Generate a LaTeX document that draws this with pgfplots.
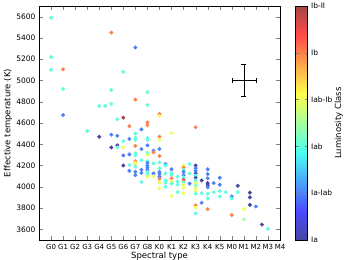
\documentclass[border=0pt]{standalone}
\usepackage{fontspec}
\setmainfont{DejaVu Sans}
\usepackage{pgfplots}
\pgfplotsset{compat=1.18}
\pgfplotsset{colormap={ljet}{rgb255(0cm)=(70,70,165) rgb255(1cm)=(75,75,255) rgb255(3cm)=(75,255,240) rgb255(5cm)=(255,255,75) rgb255(7cm)=(255,75,75) rgb255(8cm)=(165,70,70)}}
\begin{document}
\begin{tikzpicture}
\begin{axis}[
  at={(0pt,0pt)}, anchor=south west,
  scale only axis, width=241pt, height=234pt,
  xmin=-1, xmax=19, ymin=3500, ymax=5700,
  xtick={0,...,19},
  xticklabels={G0,G1,G2,G3,G4,G5,G6,G7,G8,K0,K1,K2,K3,K4,K5,M0,M1,M2,M3,M4},
  ytick={3600,3800,4000,4200,4400,4600,4800,5000,5200,5400,5600},
  yticklabels={3600,3800,4000,4200,4400,4600,4800,5000,5200,5400,5600},
  x tick label style={font=\fontsize{7}{8}\selectfont, yshift=-1pt},
  y tick label style={font=\fontsize{7.5}{8}\selectfont},
  major tick length=4pt,
  xlabel={Spectral type}, ylabel={Effective temperature (K)},
  label style={font=\fontsize{8.5}{10}\selectfont},
  xlabel style={at={(axis description cs:0.5,-0.068)}, anchor=center},
  ylabel style={at={(axis description cs:-0.129,0.5)}, anchor=center},
  colormap name=ljet,
  point meta min=0, point meta max=5,
  colorbar,
  colorbar style={
    at={(parent axis.north east)}, anchor=north west, xshift=7pt,
    scale only axis, width=12pt, height=234pt,
    ytick={0,1,2,3,4,5},
    yticklabels={Ia,Ia-Iab,Iab,Iab-Ib,Ib,Ib-II},
    yticklabel style={font=\fontsize{7.5}{8}\selectfont},
    major tick length=3pt,
    ylabel={Luminosity Class},
    ylabel style={font=\fontsize{8.5}{10}\selectfont, at={(axis description cs:3.6,0.5)}, anchor=center, rotate=0},
  },
]
\addplot[scatter, only marks, mark=*, mark size=1.8pt, point meta=explicit,
  scatter/use mapped color={draw=mapped color, fill=mapped color}]
  table[meta=c] {
x y c
0 5590 2
0 5220 2
0 5100 2
1 5105 4
1 4920 2
1 4675 1
3 4525 2
4 4760 2
4.5 4760 2
5 4780 2
5 4910 2
5 5450 4
6 5080 2
7 5310 1
7 4820 4
8 4890 2
8 4770 2
6 4650 5
5.5 4635 2
6.5 4570 4
8 4605 4
8 4580 4
9 4685 4
9 4665 3
7.5 4540 1
12 4560 4
10 4505 3
4 4470 0
5 4490 1
5.5 4480 1
6 4430 2
6.5 4450 1
7 4500 2
7 4460 2
7 4440 2
8 4460 2
8 4440 2
8 4390 1
9 4470 4
9 4440 3
5 4370 0
5.5 4390 0
5.5 4370 2
6 4370 3
7 4385 4
7.5 4355 1
8.5 4340 1
8.5 4325 4
9 4355 1
9 4290 4
6 4295 1
6.5 4305 1
7 4315 2
7 4295 2
8 4320 2
8 4300 3
7.5 4250 2
7 4240 4
7 4225 3
7 4210 3
7 4190 2
6 4200 0
6.5 4205 2
8 4240 2
8 4225 1
8 4200 1
8 4180 1
8 4160 1
8 4140 2
8 4120 2
8 4095 3
8.5 4220 2
8.5 4125 1
8.5 4100 3
9 4230 2
9 4175 2
9 4140 1
9 4120 1
9 4095 1
9 4075 4
9 4040 3
9 3985 3
9.5 4215 1
9.5 4200 2
9.5 4125 2
9.5 4060 2
9.5 4040 2
9.5 4000 2
7 4140 1
7 4110 1
6.5 4150 1
7.5 4160 1
7.5 4130 1
7.5 4045 2
10 4165 1
10 4130 2
10 4110 2
10 4080 4
10 4050 3
10 4030 2
10 3915 3
10.5 4095 2
10.5 4050 2
10.5 4020 2
10.5 3950 2
11 4200 3
11 4180 4
11 4160 2
11 4140 1
11 4110 1
11 4090 2
11 4065 4.6
11 4045 2
11 4020 3
11 3990 3
11 3940 3
11.5 4215 2
11.5 4125 2
11.5 4030 1
12 4200 0
12 4175 1
12 4150 1
12 4125 0
12 4105 2
12 4085 0
12 4060 2
12 4035 3
12 4010 2
12 3990 3
12 3960 3
12 3935 2
12 3825 4
12 3805 3
12 3750 2
12.5 4060 0
12.5 3940 2
12.5 3850 1
13 4165 1
13 4120 1
13 4080 1
13 4035 0
13 4015 0
13 3995 1
13 3935 2
13 3890 2
13 3790 4
13.5 4035 1
13.5 3950 2
14 4085 1
14 4020 1
14 3960 2
14 3910 2
14.5 3950 2
15 3910 1
15 3890 2
15 3735 4
15.5 4010 0
15.5 3950 2
16 3790 3
16 3695 2.5
16.5 3945 0
16.5 3900 0
16.5 3830 0
17 3815 1
17.5 3645 0
18 3605 2
};
\addplot[black, mark=none, forget plot, line width=0.5pt,
  error bars/.cd, x dir=both, x explicit, y dir=both, y explicit,
  error mark options={rotate=90, mark size=2.5pt, black}]
  coordinates {(16,5000) +- (1,150)};
\end{axis}
\pgfresetboundingbox
\path[use as bounding box] (-39pt,-20pt) rectangle (307pt,240pt);
\end{tikzpicture}
\end{document}
